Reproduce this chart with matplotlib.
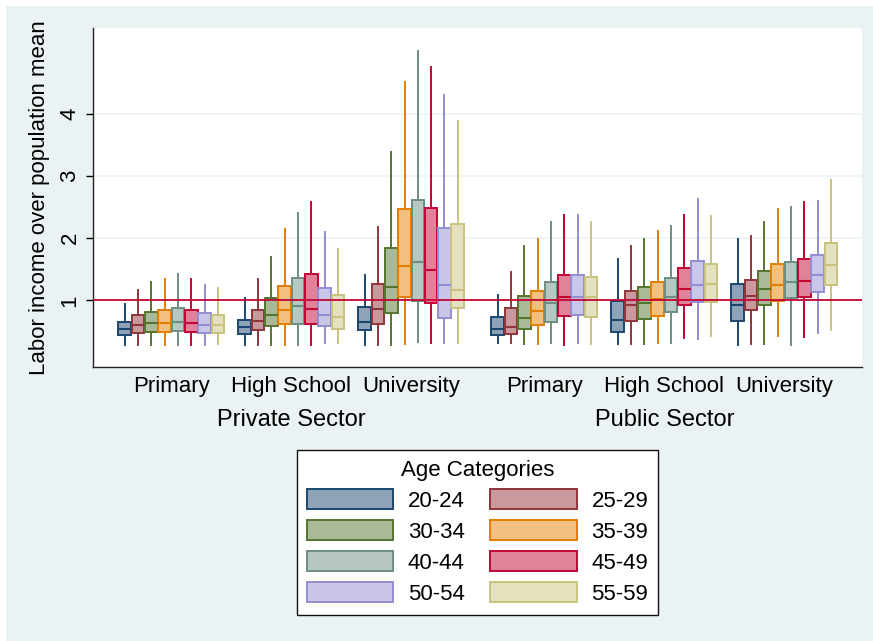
import matplotlib
matplotlib.use('Agg')
import matplotlib.pyplot as plt
from matplotlib.patches import Patch, Rectangle
from matplotlib.colors import to_rgb
from matplotlib.transforms import blended_transform_factory

plt.rcParams['font.family'] = ['Liberation Sans', 'DejaVu Sans']

# data
ages = ['20-24', '25-29', '30-34', '35-39', '40-44', '45-49', '50-54', '55-59']
levels = ['Primary', 'High School', 'University', 'Primary', 'High School', 'University']
sectors = ['Private Sector', 'Public Sector']

whislo = [
    [.28, .28, .28, .28, .28, .28, .28, .30],
    [.28, .28, .28, .28, .28, .28, .31, .32],
    [.28, .28, .28, .30, .33, .32, .31, .32],
    [.32, .31, .29, .29, .32, .28, .32, .29],
    [.29, .29, .29, .32, .31, .40, .38, .425],
    [.28, .29, .29, .425, .28, .415, .47, .52],
]
q1 = [
    [.44, .47, .49, .49, .50, .49, .48, .48],
    [.46, .52, .585, .61, .62, .615, .59, .53],
    [.52, .62, .79, 1.05, .99, .96, .71, .87],
    [.44, .46, .53, .60, .655, .745, .76, .735],
    [.485, .67, .70, .75, .805, .93, .965, .975],
    [.67, .84, .93, .99, 1.03, 1.06, 1.14, 1.24],
]
med = [
    [.53, .60, .63, .63, .655, .63, .60, .60],
    [.565, .67, .77, .84, .91, .86, .77, .735],
    [.645, .86, 1.21, 1.55, 1.61, 1.48, 1.24, 1.16],
    [.54, .575, .71, .83, .95, 1.06, 1.05, 1.06],
    [.68, .92, .95, 1.02, 1.06, 1.18, 1.24, 1.27],
    [.93, 1.07, 1.18, 1.24, 1.30, 1.31, 1.40, 1.575],
]
q3 = [
    [.655, .76, .81, .84, .875, .84, .79, .77],
    [.69, .85, 1.03, 1.23, 1.36, 1.43, 1.20, 1.08],
    [.885, 1.255, 1.85, 2.475, 2.62, 2.48, 2.17, 2.23],
    [.735, .87, 1.07, 1.15, 1.30, 1.40, 1.40, 1.38],
    [.99, 1.15, 1.22, 1.30, 1.36, 1.52, 1.64, 1.58],
    [1.26, 1.32, 1.47, 1.58, 1.61, 1.66, 1.725, 1.92],
]
whishi = [
    [.94, 1.16, 1.29, 1.35, 1.42, 1.35, 1.25, 1.20],
    [1.03, 1.35, 1.70, 2.15, 2.41, 2.59, 2.10, 1.82],
    [1.40, 2.18, 3.39, 4.51, 5.02, 4.75, 4.30, 3.89],
    [1.08, 1.46, 1.87, 1.99, 2.26, 2.38, 2.37, 2.26],
    [1.67, 1.87, 1.98, 2.12, 2.20, 2.38, 2.63, 2.36],
    [1.98, 2.035, 2.26, 2.475, 2.50, 2.575, 2.60, 2.945],
]

colors = ['#1a476f', '#90353b', '#55752f', '#e37e00',
          '#6e8e84', '#c10534', '#938dd2', '#cac27e']
bg = '#eaf2f3'


def light(c, a=0.5):
    r, g, b = to_rgb(c)
    return (1 - a + a * r, 1 - a + a * g, 1 - a + a * b)


group_pos = [0, 9, 18, 28, 37, 46]

fig = plt.figure(figsize=(8.73, 6.41), dpi=100)
fig.patch.set_facecolor('white')
fig.patches.append(Rectangle((6 / 873, 0), 1, 1 - 6 / 641, transform=fig.transFigure,
                             facecolor=bg, edgecolor='none', zorder=-10))

ax = fig.add_axes([0.1065, 0.4279, 0.9871 - 0.1065, 0.9558 - 0.4279])
ax.set_facecolor('white')

for g in range(6):
    for i in range(8):
        stats = [dict(med=med[g][i], q1=q1[g][i], q3=q3[g][i],
                      whislo=whislo[g][i], whishi=whishi[g][i])]
        c = colors[i]
        ax.bxp(stats, positions=[group_pos[g] + i - 3.5], widths=0.95,
               patch_artist=True, showcaps=False, showfliers=False,
               manage_ticks=False,
               boxprops=dict(facecolor=light(c), edgecolor=c, linewidth=1.4),
               medianprops=dict(color=c, linewidth=1.5),
               whiskerprops=dict(color=c, linewidth=1.4))

ax.axhline(1, color='#c10534', linewidth=1.3, zorder=5)
for v in [2, 3, 4]:
    ax.axhline(v, color=bg, linewidth=1.2, zorder=0)

ax.set_xlim(-5.87, 51.8)
ax.set_ylim(-0.07, 5.38)
ax.set_yticks([1, 2, 3, 4])
ax.set_yticklabels(['1', '2', '3', '4'], rotation=90, va='center')
ax.tick_params(axis='y', length=5, width=1, labelsize=16, pad=4)
ax.set_xticks(group_pos)
ax.set_xticklabels(levels)
ax.tick_params(axis='x', length=0, labelsize=16, pad=7)
ax.set_ylabel('Labor income over population mean', fontsize=16, labelpad=7)
for s in ['top', 'right']:
    ax.spines[s].set_visible(False)
for s in ['left', 'bottom']:
    ax.spines[s].set_color('#222222')
    ax.spines[s].set_linewidth(1)

tr = blended_transform_factory(ax.transData, ax.transAxes)
ax.text(9, -0.158, sectors[0], transform=tr, ha='center', va='center', fontsize=17)
ax.text(37, -0.158, sectors[1], transform=tr, ha='center', va='center', fontsize=17)

handles = [Patch(facecolor=light(c), edgecolor=c, linewidth=1.4) for c in colors]
order = [0, 2, 4, 6, 1, 3, 5, 7]
leg = fig.legend([handles[k] for k in order], [ages[k] for k in order], ncol=2,
                 title='Age Categories', loc='upper center',
                 bbox_to_anchor=(0.547, 1 - 450 / 641), borderaxespad=0,
                 fontsize=16, title_fontsize=16,
                 handlelength=3.9, handleheight=1.0, handletextpad=0.65,
                 columnspacing=1.15, labelspacing=0.38, borderpad=0.45,
                 fancybox=False, framealpha=1, edgecolor='#111111')
leg.get_frame().set_linewidth(1)

plt.savefig('out.png', dpi=100, facecolor=fig.get_facecolor())
